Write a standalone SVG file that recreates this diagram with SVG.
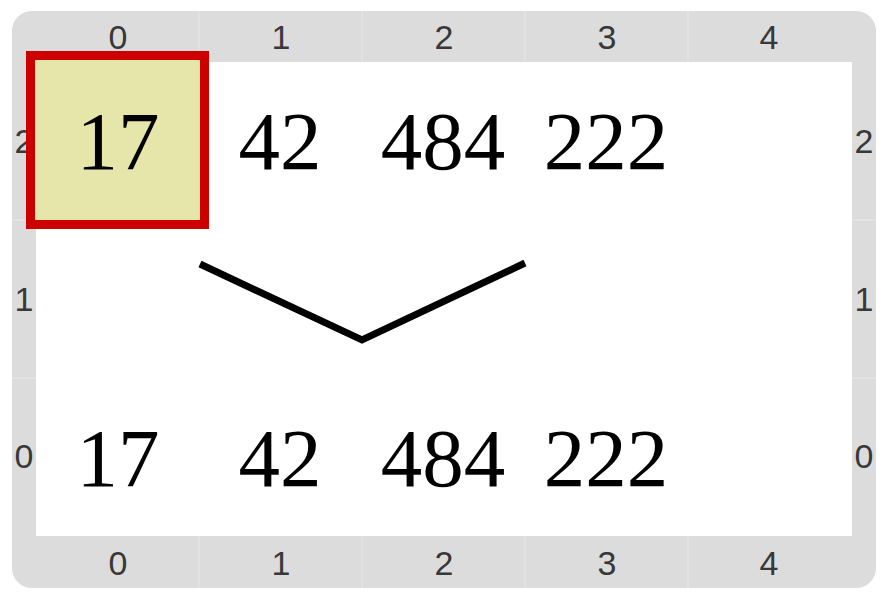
<svg xmlns="http://www.w3.org/2000/svg" width="890" height="601" viewBox="0 0 890 601">
<style>
.ax{font-family:"Liberation Sans",Arial,sans-serif;font-size:34px;fill:#383838;text-anchor:middle}
.val{font-family:"Liberation Serif","Times New Roman",serif;font-size:83px;fill:#000;text-anchor:middle}
.grid{stroke:#e8e8e8;stroke-width:1}
</style>
<rect width="890" height="601" fill="#fff"/>
<g id="frame">
<rect x="12" y="11" width="864" height="577" rx="20" fill="#dcdcdc"/>
<rect x="36" y="62" width="816" height="474" fill="#fff"/>
<g class="grid">
<line x1="199" y1="11" x2="199" y2="62"/><line x1="362" y1="11" x2="362" y2="62"/><line x1="525" y1="11" x2="525" y2="62"/><line x1="688" y1="11" x2="688" y2="62"/>
<line x1="199" y1="536" x2="199" y2="588"/><line x1="362" y1="536" x2="362" y2="588"/><line x1="525" y1="536" x2="525" y2="588"/><line x1="688" y1="536" x2="688" y2="588"/>
<line x1="12" y1="220" x2="36" y2="220"/><line x1="12" y1="378" x2="36" y2="378"/>
<line x1="852" y1="220" x2="876" y2="220"/><line x1="852" y1="378" x2="876" y2="378"/>
</g>
<g class="ax">
<text x="118" y="49">0</text><text x="281" y="49">1</text><text x="444" y="49">2</text><text x="607" y="49">3</text><text x="769" y="49">4</text>
<text x="118" y="575">0</text><text x="281" y="575">1</text><text x="444" y="575">2</text><text x="607" y="575">3</text><text x="769" y="575">4</text>
<text x="24" y="153">2</text><text x="24" y="311">1</text><text x="24" y="468">0</text>
<text x="864" y="153">2</text><text x="864" y="311">1</text><text x="864" y="468">0</text>
</g>
</g>
<g id="node-top-0">
<rect x="30.5" y="55.5" width="174" height="169" fill="#e6e6ab" stroke="#cc0000" stroke-width="9"/>
<text class="val" x="118" y="169">17</text>
</g>
<g id="node-top-1"><text class="val" x="280" y="169">42</text></g>
<g id="node-top-2"><text class="val" x="443" y="169">484</text></g>
<g id="node-top-3"><text class="val" x="606" y="169">222</text></g>
<g id="node-bot-0"><text class="val" x="118" y="486">17</text></g>
<g id="node-bot-1"><text class="val" x="280" y="486">42</text></g>
<g id="node-bot-2"><text class="val" x="443" y="486">484</text></g>
<g id="node-bot-3"><text class="val" x="606" y="486">222</text></g>
<g id="connectors">
<polyline points="200,264 362,340 525,263" fill="none" stroke="#000" stroke-width="7" stroke-linejoin="miter"/>
</g>
</svg>
